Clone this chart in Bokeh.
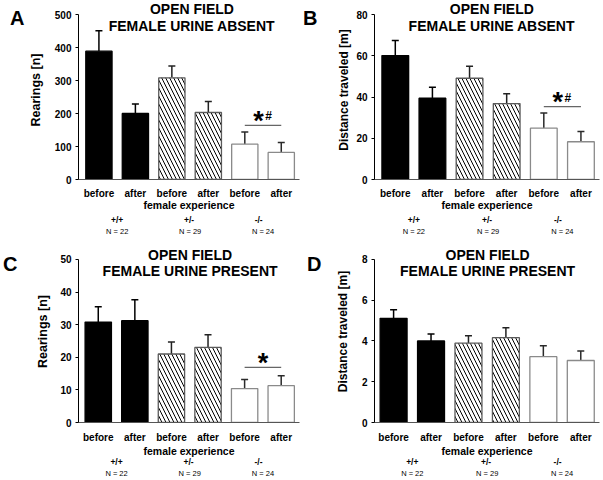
from bokeh.plotting import figure
from bokeh.models import (Range1d, FixedTicker, Label, Whisker, TeeHead, ColumnDataSource,
                          LinearAxis)
from bokeh.layouts import gridplot
from bokeh.embed import file_html
from bokeh.resources import INLINE

# ---------------- data ----------------
timepoints = ["before", "after"]
genotypes = ["+/+", "+/-", "-/-"]
group_n = [22, 29, 24]

rear_absent_mean = [389, 200, 308, 203, 107, 82]
rear_absent_sem = [62, 29, 36, 33, 37, 30]
dist_absent_mean = [60.1, 39.4, 49.1, 36.8, 24.9, 18.3]
dist_absent_sem = [7.3, 5.3, 5.8, 4.8, 7.3, 5.0]
rear_present_mean = [30.8, 31.2, 21.0, 23.0, 10.4, 11.3]
rear_present_sem = [4.7, 6.4, 3.7, 3.9, 2.8, 3.0]
dist_present_mean = [5.11, 4.00, 3.89, 4.16, 3.23, 3.04]
dist_present_sem = [0.42, 0.34, 0.37, 0.49, 0.54, 0.47]

sig_level = [164, 35.3, 16.9, None]
sig_marks = [("*", "#"), ("*", "#"), ("*", ""), None]

letters = ["A", "B", "C", "D"]
titles = [("OPEN FIELD", "FEMALE URINE ABSENT"), ("OPEN FIELD", "FEMALE URINE ABSENT"),
          ("OPEN FIELD", "FEMALE URINE PRESENT"), ("OPEN FIELD", "FEMALE URINE PRESENT")]
ylabels = ["Rearings [n]", "Distance traveled [m]", "Rearings [n]", "Distance traveled [m]"]
ymax = [500, 80, 50, 8]
ystep = [100, 20, 10, 2]
means = [rear_absent_mean, dist_absent_mean, rear_present_mean, dist_present_mean]
sems = [rear_absent_sem, dist_absent_sem, rear_present_sem, dist_present_sem]

# ---------------- styling / geometry ----------------
FONT = "Liberation Sans"
INK = "black"
fills = ["black", "white", "white"]
hatches = [None, "\\", None]
outlines = ["black", "#5a5a5a", "#8a8a8a"]
errcols = ["black", "#222222", "#2a2a2a"]

# w,h: figure size; bl,bb,br: borders; at: pixel row of the top tick; x0: left end of x range
geom = [
    dict(w=300, h=240, bl=68, br=1, bb=61, at=14, x0=-0.56, als=9, fs=12.5, lso=1, letter_px=17,
         tdx=2.55, tdy=(5.7, -11.3), xso=8, xals=-3, gso=1, nso=-1),
    dict(w=303, h=240, bl=68, br=4, bb=61, at=14, x0=-0.56, als=2, fs=12, lso=17, letter_px=17,
         tdx=2.60, tdy=(5.7, -11.3), xso=8, xals=-3, gso=1, nso=-1),
    dict(w=300, h=240, bl=69, br=1, bb=57, at=19, x0=-0.54, als=7, fs=12.5, lso=16, letter_px=24,
         tdx=2.51, tdy=(4.3, -11.4), xso=9, xals=-1, gso=-3, nso=-1),
    dict(w=303, h=240, bl=70, br=4, bb=57, at=19, x0=-0.51, als=9, fs=12, lso=11, letter_px=24,
         tdx=2.51, tdy=(4.3, -11.4), xso=9, xals=-1, gso=-3, nso=-1),
]
gen_shift = [0.0, -0.03, -0.12]


def hidden_axis(ax):
    ax.axis_line_color = None
    ax.major_tick_line_color = None
    ax.minor_tick_line_color = None
    ax.major_tick_out = 0
    ax.major_tick_in = 0
    ax.minor_tick_out = 0
    ax.minor_tick_in = 0
    ax.major_label_text_font = FONT
    ax.major_label_text_color = INK


def make_panel(k):
    g = geom[k]
    top = ymax[k]
    fb = g["h"] - g["bb"]                      # frame height (frame top = figure top)
    y_end = top * fb / (fb - g["at"])          # extra room above the axis for the title
    p = figure(width=g["w"], height=g["h"], x_range=Range1d(g["x0"], 5.5), y_range=Range1d(0, y_end),
               output_backend="svg", toolbar_location=None,
               min_border_left=g["bl"], min_border_right=g["br"], min_border_top=0,
               min_border_bottom=g["bb"])
    p.outline_line_color = None
    p.xgrid.visible = False
    p.ygrid.visible = False
    p.background_fill_color = "white"
    p.border_fill_color = "white"

    # bars + error bars, one group per genotype
    for gi in range(len(genotypes)):
        idx = [2 * gi, 2 * gi + 1]
        m = [means[k][i] for i in idx]
        s = [sems[k][i] for i in idx]
        src = ColumnDataSource(dict(x=idx, top=m, upper=[a + b for a, b in zip(m, s)]))
        kw = dict(fill_color=fills[gi], line_color=outlines[gi], line_width=1.3)
        if hatches[gi]:
            kw.update(hatch_pattern=hatches[gi], hatch_color="black", hatch_scale=8, hatch_weight=1)
        p.vbar(x="x", top="top", bottom=0, width=0.72, source=src, **kw)
        w = Whisker(source=src, base="x", lower="top", upper="upper", dimension="height",
                    line_color=errcols[gi], line_width=1.5,
                    upper_head=TeeHead(size=7, line_color=errcols[gi], line_width=1.5), lower_head=None)
        p.add_layout(w)

    # x axis: before / after + "female experience"
    xa = p.xaxis[0]
    xa.ticker = FixedTicker(ticks=list(range(6)))
    xa.major_label_overrides = {i: timepoints[i % 2] for i in range(6)}
    xa.major_tick_out = 0
    xa.major_tick_in = 0
    xa.minor_tick_out = 0
    xa.minor_tick_in = 0
    xa.axis_line_color = "#555555"
    xa.major_label_standoff = g["xso"]
    xa.major_label_text_font = FONT
    xa.major_label_text_font_style = "bold"
    xa.major_label_text_font_size = "10px"
    xa.major_label_text_color = INK
    xa.axis_label = "female experience"
    xa.axis_label_text_font = FONT
    xa.axis_label_text_font_style = "bold"
    xa.axis_label_text_font_size = "10.5px"
    xa.axis_label_text_color = INK
    xa.axis_label_standoff = g["xals"]

    # genotype row and N row as extra label-only axes below
    centers = [(2 * gi + 2 * gi + 1) / 2 for gi in range(len(genotypes))]
    gpos = [c + d for c, d in zip(centers, gen_shift)]
    ga = LinearAxis(ticker=FixedTicker(ticks=gpos),
                    major_label_overrides={gp: gen for gp, gen in zip(gpos, genotypes)})
    hidden_axis(ga)
    ga.major_label_text_font_style = "bold"
    ga.major_label_text_font_size = "8.5px"
    ga.major_label_standoff = g["gso"]
    p.add_layout(ga, "below")
    na = LinearAxis(ticker=FixedTicker(ticks=centers),
                    major_label_overrides={c: f"N = {n}" for c, n in zip(centers, group_n)})
    hidden_axis(na)
    na.major_label_text_font_size = "7.5px"
    na.major_label_standoff = g["nso"]
    p.add_layout(na, "below")

    # y axis
    ya = p.yaxis[0]
    ya.ticker = FixedTicker(ticks=list(range(0, top + 1, ystep[k])))
    ya.bounds = (0, top)
    ya.major_tick_out = 3
    ya.major_tick_in = 0
    ya.minor_tick_out = 0
    ya.minor_tick_in = 0
    ya.axis_line_color = "black"
    ya.major_label_standoff = 4
    ya.major_label_text_font = FONT
    ya.major_label_text_font_style = "bold"
    ya.major_label_text_font_size = "10px"
    ya.major_label_text_color = INK
    ya.axis_label = ylabels[k]
    ya.axis_label_text_font = FONT
    ya.axis_label_text_font_style = "bold"
    ya.axis_label_text_font_size = f"{g['fs']}px"
    ya.axis_label_text_color = INK
    ya.axis_label_standoff = g["als"]

    # panel letter as a label-only axis further left
    ly = round(y_end * (fb - g["letter_px"]) / fb, 3)
    la = LinearAxis(ticker=FixedTicker(ticks=[ly]), major_label_overrides={ly: letters[k]})
    hidden_axis(la)
    la.major_label_text_font_style = "bold"
    la.major_label_text_font_size = "20px"
    la.major_label_standoff = g["lso"]
    p.add_layout(la, "left")

    # two-line title inside the (extended) frame
    for line, dy in zip(titles[k], g["tdy"]):
        p.add_layout(Label(x=g["tdx"], y=top, y_offset=dy, text=line, text_color=INK,
                           text_align="center", text_baseline="middle", text_font=FONT,
                           text_font_style="bold", text_font_size="14px"))

    # significance bracket
    if sig_level[k] is not None:
        p.segment(x0=[4], x1=[5], y0=[sig_level[k]], y1=[sig_level[k]], line_color="#666666", line_width=1.3)
        star, hsh = sig_marks[k]
        sx = -4.5 if hsh else 0
        p.add_layout(Label(x=4.5, y=sig_level[k], x_offset=sx, y_offset=4.5, text=star, text_color=INK,
                           text_align="center", text_baseline="alphabetic", text_font=FONT,
                           text_font_style="bold", text_font_size="27px"))
        if hsh:
            p.add_layout(Label(x=4.5, y=sig_level[k], x_offset=5.5, y_offset=9, text=hsh, text_color=INK,
                               text_align="center", text_baseline="middle", text_font=FONT,
                               text_font_style="bold", text_font_size="12px"))
    return p


panels = [make_panel(k) for k in range(4)]
layout = gridplot([[panels[0], panels[1]], [panels[2], panels[3]]], toolbar_location=None)

open("out.html", "w").write(file_html(layout, INLINE))
